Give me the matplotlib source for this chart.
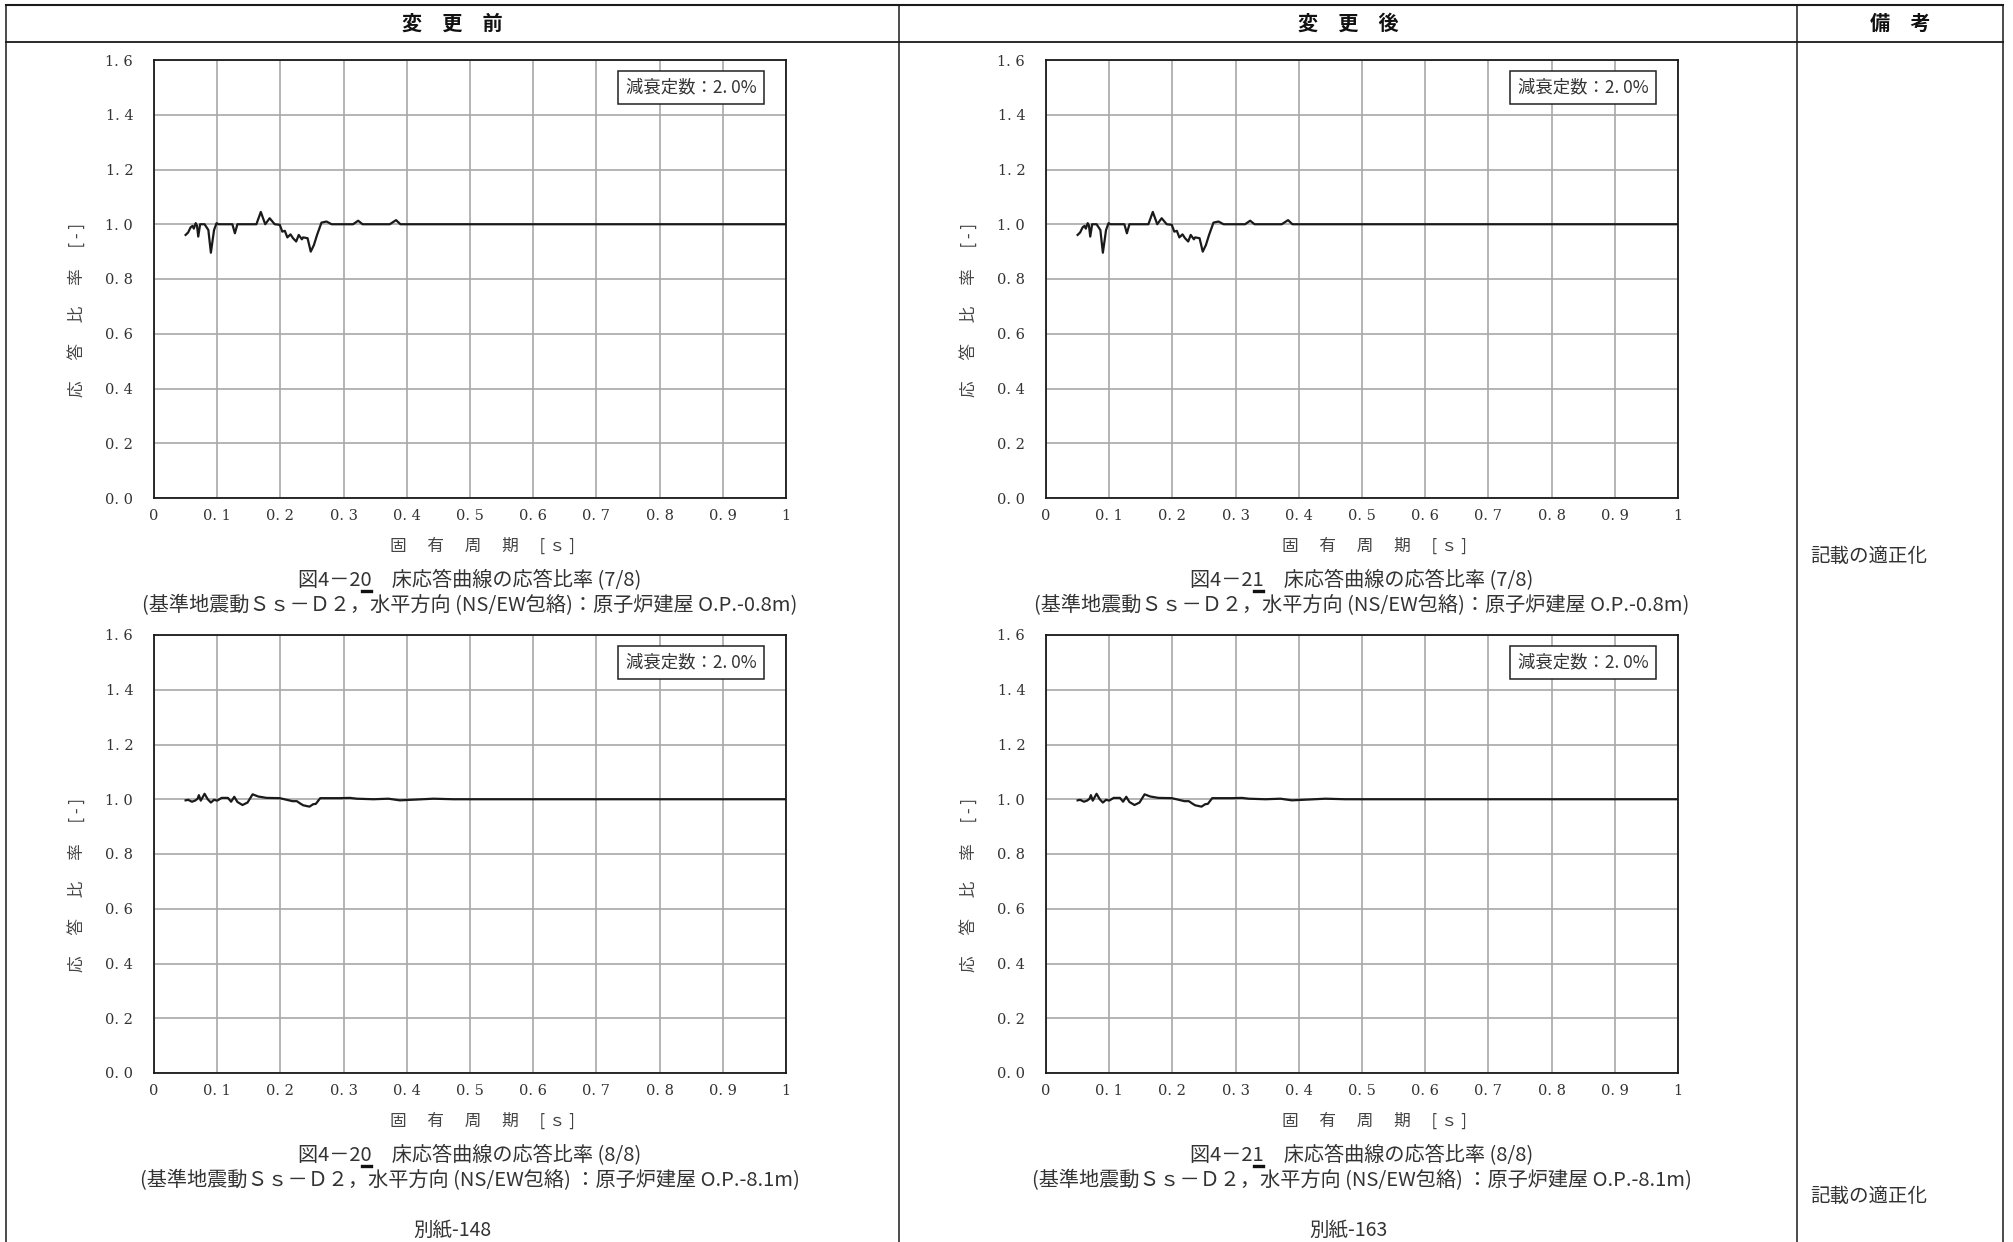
import matplotlib
matplotlib.use('Agg')
import matplotlib.pyplot as plt
from matplotlib.lines import Line2D

plt.rcParams['font.family'] = ['Noto Sans CJK JP', 'DejaVu Sans']

# floor response ratio, (7/8) : O.P.-0.8m
period_78 = [0.050, 0.054, 0.058, 0.061, 0.063, 0.066, 0.068, 0.070, 0.073, 0.080,
             0.086, 0.090, 0.095, 0.099, 0.102, 0.124, 0.128, 0.132, 0.162, 0.169,
             0.176, 0.183, 0.191, 0.199, 0.203, 0.207, 0.211, 0.216, 0.220, 0.225,
             0.229, 0.234, 0.236, 0.243, 0.248, 0.253, 0.258, 0.265, 0.273, 0.281,
             0.315, 0.323, 0.330, 0.373, 0.383, 0.390, 1.000]
ratio_78 = [0.961, 0.970, 0.989, 0.994, 0.984, 1.004, 0.995, 0.955, 1.000, 1.000,
            0.979, 0.896, 0.979, 1.004, 1.000, 1.000, 0.967, 1.000, 1.000, 1.045,
            1.000, 1.022, 1.000, 0.998, 0.973, 0.976, 0.952, 0.963, 0.949, 0.937,
            0.961, 0.945, 0.952, 0.949, 0.900, 0.924, 0.961, 1.006, 1.010, 1.000,
            1.000, 1.013, 1.000, 1.000, 1.015, 1.000, 1.000]

# floor response ratio, (8/8) : O.P.-8.1m
period_88 = [0.050, 0.054, 0.060, 0.065, 0.069, 0.071, 0.074, 0.080, 0.085, 0.090,
             0.095, 0.100, 0.107, 0.117, 0.122, 0.127, 0.132, 0.140, 0.148, 0.156,
             0.165, 0.178, 0.199, 0.210, 0.219, 0.226, 0.231, 0.236, 0.246, 0.252,
             0.256, 0.263, 0.294, 0.310, 0.321, 0.347, 0.371, 0.389, 0.416, 0.442,
             0.474, 1.000]
ratio_88 = [0.996, 0.998, 0.991, 0.995, 1.002, 1.015, 0.995, 1.020, 1.000, 0.988,
            0.998, 0.995, 1.005, 1.005, 0.991, 1.009, 0.990, 0.979, 0.988, 1.018,
            1.010, 1.005, 1.004, 0.998, 0.993, 0.993, 0.985, 0.978, 0.973, 0.982,
            0.983, 1.004, 1.004, 1.005, 1.002, 1.000, 1.002, 0.996, 0.999, 1.002,
            1.000, 1.000]

x_ticks = [0, 0.1, 0.2, 0.3, 0.4, 0.5, 0.6, 0.7, 0.8, 0.9, 1.0]
x_ticklabels = ['0', '0. 1', '0. 2', '0. 3', '0. 4', '0. 5', '0. 6', '0. 7', '0. 8', '0. 9', '1']
y_ticks = [0, 0.2, 0.4, 0.6, 0.8, 1.0, 1.2, 1.4, 1.6]
y_ticklabels = ['0. 0', '0. 2', '0. 4', '0. 6', '0. 8', '1. 0', '1. 2', '1. 4', '1. 6']

headers = ['変　更　前', '変　更　後', '備　考']
fig_numbers = ['20', '21']
page_numbers = ['別紙-148', '別紙-163']
sheet_labels = ['(7/8)', '(8/8)']
captions_2 = ['(基準地震動Ｓｓ－Ｄ２，水平方向 (NS/EW包絡)：原子炉建屋 O.P.-0.8m)',
              '(基準地震動Ｓｓ－Ｄ２，水平方向 (NS/EW包絡) ：原子炉建屋 O.P.-8.1m)']
damping_text = '減衰定数：2. 0%'
xlabel = '固\u3000\u2005有\u3000\u2005周\u3000\u2005期\u3000\u2005[ ｓ ]'
ylabel = '応\u3000\u2005答\u3000\u2005比\u3000\u2005率\u3000\u2005[ - ]'
remark = '記載の適正化'

W, H = 2013, 1242
fig = plt.figure(figsize=(W / 100, H / 100), dpi=100)


def fx(x):
    return x / W


def fy(y):
    return 1 - y / H


def hline(x0, x1, y, lw=1.1):
    fig.add_artist(Line2D([fx(x0), fx(x1)], [fy(y), fy(y)], color='#1a1a1a', lw=lw))


def vline(x, y0, y1, lw=1.1):
    fig.add_artist(Line2D([fx(x), fx(x)], [fy(y0), fy(y1)], color='#1a1a1a', lw=lw))


# table frame
hline(6, 2003, 5, lw=1.5)
hline(6, 2003, 42, lw=1.3)
for xv in [6, 899, 1797, 2003]:
    vline(xv, 5, 1242)

for txt, xc in zip(headers, [452, 1348, 1900]):
    fig.text(fx(xc), fy(23), txt, ha='center', va='center', fontsize=14.5,
             weight='bold', color='#111')

series = [(period_78, ratio_78), (period_88, ratio_88)]
col_left = [154, 1046]
row_top = [60, 635]
ax_w, ax_h = 632, 438

captions = []
for col in range(2):
    for row in range(2):
        period, ratio = series[row]
        left, top = col_left[col], row_top[row]
        ax = fig.add_axes([fx(left), fy(top + ax_h), ax_w / W, ax_h / H])
        ax.plot(period, ratio, color='#1a1a1a', lw=1.6, zorder=3)
        ax.set_xlim(0, 1)
        ax.set_ylim(0, 1.6)
        ax.set_xticks(x_ticks)
        ax.set_xticklabels(x_ticklabels, fontfamily='DejaVu Serif', fontsize=10.5, color='#333')
        ax.set_yticks(y_ticks)
        ax.set_yticklabels(y_ticklabels, fontfamily='DejaVu Serif', fontsize=10.5, color='#333')
        ax.tick_params(axis='x', length=0, pad=8)
        ax.tick_params(axis='y', length=0, pad=15)
        ax.grid(True, color='#a8a8a8', lw=1.2)
        ax.set_axisbelow(True)
        for sp in ax.spines.values():
            sp.set_color('#1a1a1a')
            sp.set_linewidth(1.3)
        ax.set_xlabel(xlabel, fontsize=12, color='#444', va='center')
        ax.xaxis.set_label_coords(0.52, -0.11)
        ax.set_ylabel(ylabel, fontsize=12, color='#444', va='center')
        ax.yaxis.set_label_coords(-0.122, 0.43)
        ax.text(0.953, 0.958, damping_text, transform=ax.transAxes, ha='right', va='top',
                fontsize=12.5, color='#333',
                bbox=dict(boxstyle='square,pad=0.45', fc='white', ec='#222', lw=1.1))

        xc = left + ax_w / 2
        cap_y = top + ax_h + 83
        line1 = '図4－' + fig_numbers[col] + '　床応答曲線の応答比率 ' + sheet_labels[row]
        t1 = fig.text(fx(xc), fy(cap_y), line1, ha='center', va='center',
                      fontsize=14.5, color='#333')
        fig.text(fx(xc), fy(cap_y + 25), captions_2[row], ha='center', va='center',
                 fontsize=14.5, color='#333')
        captions.append((t1, '図4－' + fig_numbers[col][0], '図4－' + fig_numbers[col]))

for col, xc in enumerate([452, 1348]):
    fig.text(fx(xc), fy(1230), page_numbers[col], ha='center', va='center',
             fontsize=14, color='#333')

for yc in [556, 1197]:
    fig.text(fx(1810), fy(yc), remark, ha='left', va='center', fontsize=14, color='#333')

# change marks: short bar under the revised digit of the figure number
fig.canvas.draw()
renderer = fig.canvas.get_renderer()
for t1, pre_a, pre_b in captions:
    bb = t1.get_window_extent(renderer)
    widths = []
    for s in (pre_a, pre_b):
        tmp = fig.text(0, 0, s, fontproperties=t1.get_fontproperties())
        widths.append(tmp.get_window_extent(renderer).width)
        tmp.remove()
    x0 = (bb.x0 + widths[0] + 1) / W
    x1 = (bb.x0 + widths[1] - 1) / W
    yb = (bb.y0 + 1) / H
    fig.add_artist(Line2D([x0, x1], [yb, yb], color='#111', lw=2.4))

fig.savefig('out.png', dpi=100)
